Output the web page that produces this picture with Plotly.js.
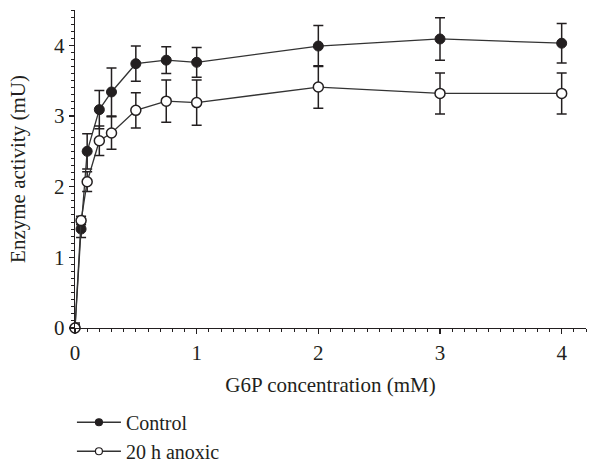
<!DOCTYPE html>
<html>
<head>
<meta charset="utf-8">
<script src="https://cdn.plot.ly/plotly-3.0.1.min.js"></script>
<style>html,body{margin:0;padding:0;background:#fff;}#chart{width:598px;height:462px;}</style>
</head>
<body>
<div id="chart"></div>
<script>
// G6P concentration (mM)
const g6p = [0, 0.05, 0.1, 0.2, 0.3, 0.5, 0.75, 1, 2, 3, 4];
// Enzyme activity (mU)
const controlMean = [0, 1.40, 2.50, 3.09, 3.34, 3.74, 3.79, 3.76, 3.99, 4.09, 4.03];
const controlErr  = [0.07, 0.12, 0.25, 0.27, 0.34, 0.25, 0.19, 0.21, 0.29, 0.30, 0.28];
const anoxicMean  = [0, 1.52, 2.07, 2.65, 2.76, 3.08, 3.21, 3.19, 3.41, 3.32, 3.32];
const anoxicErr   = [0.05, 0.06, 0.14, 0.21, 0.23, 0.25, 0.30, 0.32, 0.30, 0.29, 0.29];
const seriesNames = ['Control', '20 h anoxic'];
const xTicks = [0, 1, 2, 3, 4];
const yTicks = [0, 1, 2, 3, 4];

const ink = '#231f20';
const fam = 'Liberation Serif, Times New Roman, serif';
const font = {family: fam, size: 21, color: ink};
const legendFont = {family: fam, size: 20, color: ink};

const fillColors = [ink, '#ffffff'];
const means = [controlMean, anoxicMean];
const errs = [controlErr, anoxicErr];

const traces = [];
for (let i = 0; i < 2; i++) {
  traces.push({
    x: g6p, y: means[i], name: seriesNames[i], type: 'scatter', mode: 'lines+markers',
    showlegend: false,
    line: {color: '#333333', width: 1.3},
    marker: {symbol: 'circle', size: 10, color: fillColors[i], line: {color: ink, width: i ? 1.5 : 1}},
    error_y: {type: 'data', array: errs[i], visible: true, color: ink, thickness: 1.5, width: 5},
    cliponaxis: false
  });
}
// legend entries (smaller symbols, as in the reference key)
for (let i = 0; i < 2; i++) {
  traces.push({
    x: [null], y: [null], name: seriesNames[i], type: 'scatter', mode: 'lines+markers',
    showlegend: true,
    line: {color: '#333333', width: 1.3},
    marker: {symbol: 'circle', size: 7, color: fillColors[i], line: {color: ink, width: 1.2}}
  });
}

const layout = {
  width: 598, height: 462,
  margin: {l: 75, r: 12, t: 10, b: 134, autoexpand: false},
  paper_bgcolor: '#ffffff', plot_bgcolor: '#ffffff',
  font: font,
  showlegend: true,
  legend: {
    x: -0.006, xanchor: 'left', y: -0.235, yanchor: 'top',
    font: legendFont, bgcolor: 'rgba(0,0,0,0)', tracegroupgap: 0,
    itemwidth: 44
  },
  xaxis: {
    range: [0, 4.2], tickvals: xTicks, ticktext: xTicks.map(String),
    showgrid: false, zeroline: false, showline: true, linecolor: ink, linewidth: 1.3,
    ticks: 'outside', ticklen: 5, tickwidth: 1.3, tickcolor: ink,
    minor: {dtick: 0.1, ticks: 'outside', ticklen: 3, tickwidth: 1, tickcolor: ink, showgrid: false},
    title: {text: 'G6P concentration (mM)', font: font, standoff: 13},
    tickfont: font
  },
  yaxis: {
    range: [0, 4.5], tickvals: yTicks, ticktext: yTicks.map(String),
    showgrid: false, zeroline: false, showline: true, linecolor: ink, linewidth: 1.3,
    ticks: 'outside', ticklen: 5, tickwidth: 1.3, tickcolor: ink,
    minor: {dtick: 0.1, ticks: 'outside', ticklen: 3, tickwidth: 1, tickcolor: ink, showgrid: false},
    title: {text: 'Enzyme activity (mU)', font: font, standoff: 22},
    tickfont: font
  }
};

Plotly.newPlot('chart', traces, layout, {displayModeBar: false, staticPlot: true});
</script>
</body>
</html>
